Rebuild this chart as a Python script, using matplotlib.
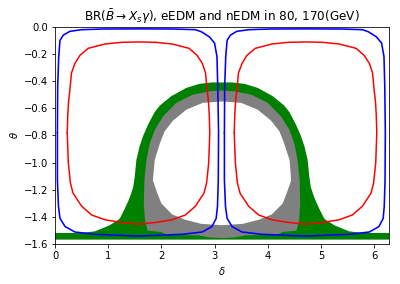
import matplotlib

matplotlib.use("Agg")
import matplotlib.pyplot as plt

TWO_PI = 6.2832

# allowed region from BR(B -> Xs gamma) (green), outer boundary incl. bottom band
green_d = [0.0, 0.0, 0.5, 0.75, 0.94, 1.03, 1.19, 1.22, 1.31, 1.38, 1.42, 1.47,
           1.50, 1.53, 1.59, 1.66, 1.75, 1.87, 1.97, 2.19, 2.47, 2.72, 2.95,
           3.33, 3.56, 3.81, 4.09, 4.31, 4.41, 4.53, 4.62, 4.69, 4.75, 4.78,
           4.81, 4.86, 4.90, 4.97, 5.06, 5.09, 5.25, 5.34, 5.53, 5.78,
           TWO_PI, TWO_PI]
green_t = [-1.566, -1.517, -1.517, -1.505, -1.475, -1.46, -1.42, -1.41, -1.34, -1.28,
           -1.24, -1.18, -1.10, -0.98, -0.88, -0.80, -0.72, -0.63, -0.58, -0.51,
           -0.45, -0.42, -0.41,
           -0.41, -0.42, -0.45, -0.51, -0.58, -0.63, -0.72, -0.80, -0.88, -0.98,
           -1.10, -1.18, -1.24, -1.28, -1.34, -1.41, -1.42, -1.46, -1.475,
           -1.505, -1.517, -1.517, -1.566]

# eEDM allowed region (gray)
gray_d = [1.74, 1.69, 1.67, 1.68, 1.72, 1.78, 1.875, 2.03, 2.28, 2.59, 2.91, 3.14,
          3.37, 3.69, 4.00, 4.25, 4.41, 4.50, 4.56, 4.60, 4.61, 4.59, 4.54,
          4.28, 4.18, 3.58, 3.38, 3.14, 2.90, 2.70, 2.10, 2.00]
gray_t = [-1.50, -1.42, -1.30, -1.13, -0.98, -0.86, -0.76, -0.66, -0.56, -0.50,
          -0.475, -0.47,
          -0.475, -0.50, -0.56, -0.66, -0.76, -0.86, -0.98, -1.13, -1.30, -1.42,
          -1.50, -1.51, -1.53, -1.535, -1.55, -1.555, -1.55, -1.535, -1.53, -1.51]

# excluded hole inside the arch
hole_d = [1.84, 1.875, 1.97, 2.06, 2.22, 2.47, 2.78, 3.14, 3.50, 3.81, 4.06, 4.22,
          4.31, 4.41, 4.44, 4.36, 4.28, 4.08, 3.83, 3.53, 3.14, 2.75, 2.45, 2.20,
          2.00, 1.92]
hole_t = [-1.13, -0.98, -0.86, -0.77, -0.69, -0.61, -0.56, -0.55, -0.56, -0.61,
          -0.69, -0.77, -0.86, -0.98, -1.13, -1.22, -1.30, -1.38, -1.42, -1.45,
          -1.46, -1.45, -1.42, -1.38, -1.30, -1.22]

# nEDM contour (red), two loops
red1_d = [0.23, 0.24, 0.255, 0.28, 0.31, 0.375, 0.47, 0.625, 0.94, 1.25, 1.571,
          1.89, 2.20, 2.52, 2.67, 2.77, 2.83, 2.86, 2.885, 2.90, 2.91, 2.89, 2.85,
          2.80, 2.64, 2.45, 2.20, 1.89, 1.571, 1.25, 0.94, 0.69, 0.5, 0.34, 0.29,
          0.25, 0.23]
red1_t = [-0.78, -0.65, -0.55, -0.465, -0.34, -0.27, -0.21, -0.159, -0.127, -0.115,
          -0.112, -0.115, -0.127, -0.159, -0.21, -0.27, -0.34, -0.465, -0.55, -0.65,
          -0.78, -1.0, -1.15, -1.225, -1.32, -1.385, -1.42, -1.44, -1.452, -1.44,
          -1.42, -1.385, -1.32, -1.225, -1.15, -1.0, -0.78]
red2_d = [3.37, 3.38, 3.395, 3.42, 3.45, 3.517, 3.61, 3.767, 4.08, 4.39, 4.712,
          5.03, 5.34, 5.66, 5.81, 5.91, 5.97, 6.00, 6.025, 6.04, 6.05, 6.03, 5.99,
          5.94, 5.78, 5.59, 5.34, 5.03, 4.712, 4.39, 4.08, 3.83, 3.64, 3.48, 3.43,
          3.39, 3.37]
red2_t = red1_t

# BR contour (blue), two loops
blue1_d = [0.045, 0.05, 0.07, 0.094, 0.156, 0.28, 0.5, 0.9, 1.571, 2.24, 2.64, 2.75,
           2.90, 3.0, 3.045, 3.06, 3.075, 3.07, 3.055, 3.03, 2.95, 2.77, 2.39,
           1.571, 0.75, 0.375, 0.19, 0.094, 0.065, 0.045, 0.045]
blue1_t = [-0.78, -0.44, -0.22, -0.10, -0.062, -0.034, -0.022, -0.017, -0.016,
           -0.017, -0.022, -0.037, -0.074, -0.12, -0.22, -0.44, -0.78, -1.13, -1.32,
           -1.41, -1.47, -1.51, -1.527, -1.54, -1.527, -1.51, -1.47, -1.41, -1.32,
           -1.13, -0.78]
blue2_d = [3.185, 3.19, 3.21, 3.236, 3.298, 3.42, 3.64, 4.04, 4.712, 5.38, 5.78, 5.89,
           6.04, 6.14, 6.185, 6.20, 6.21, 6.205, 6.19, 6.17, 6.09, 5.91, 5.53,
           4.712, 3.89, 3.515, 3.33, 3.236, 3.205, 3.185, 3.185]
blue2_t = blue1_t

fig = plt.figure(figsize=(400 / 72, 284 / 72), dpi=72)
ax = fig.add_axes([0.1375, 0.14, 0.8355, 0.766])

ax.fill(green_d, green_t, color="green", linewidth=0, zorder=1)
ax.fill(gray_d, gray_t, color="gray", linewidth=0, zorder=2)
ax.fill(hole_d, hole_t, color="white", linewidth=0, zorder=3)

line_kw = dict(solid_capstyle="round", solid_joinstyle="round")
ax.plot(red1_d, red1_t, color="red", linewidth=1.5, zorder=4, **line_kw)
ax.plot(red2_d, red2_t, color="red", linewidth=1.5, zorder=4, **line_kw)
ax.plot(blue1_d, blue1_t, color="blue", linewidth=1.6, zorder=5, **line_kw)
ax.plot(blue2_d, blue2_t, color="blue", linewidth=1.6, zorder=5, **line_kw)

ax.set_xlim(0, TWO_PI)
ax.set_ylim(-1.6, 0.0)
ax.set_xticks(range(7))
ax.set_yticks([0.0, -0.2, -0.4, -0.6, -0.8, -1.0, -1.2, -1.4, -1.6])
ax.set_xlabel(r"$\delta$")
ax.set_ylabel(r"$\theta$")
ax.set_title(r"BR($\bar{B}\to X_s\gamma$), eEDM and nEDM in 80, 170(GeV)")

fig.savefig("out.png", dpi=72)
